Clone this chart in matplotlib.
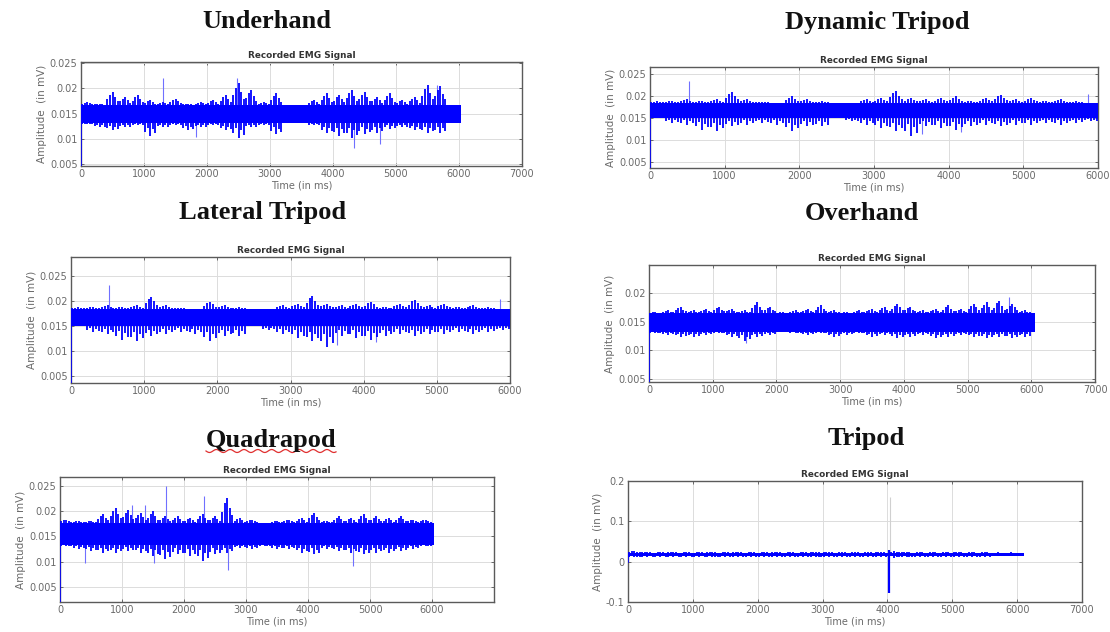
import numpy as np
import matplotlib
matplotlib.use("Agg")
import matplotlib.pyplot as plt
from matplotlib.lines import Line2D

# ---- data (mV) ----
# 200 ms bins from 0 to 6000 ms: upper / lower extremes of the signal in each bin
bin_start = np.arange(0, 6000, 200)

under_hi = [0.0173, 0.0170, 0.0193, 0.0183, 0.0187, 0.0177, 0.0173, 0.0180, 0.0170, 0.0173,
            0.0177, 0.0187, 0.0210, 0.0197, 0.0173, 0.0190, 0.0163, 0.0167, 0.0177, 0.0190,
            0.0187, 0.0197, 0.0193, 0.0183, 0.0190, 0.0177, 0.0183, 0.0207, 0.0205, 0.0162]
under_lo = [0.0130, 0.0123, 0.0117, 0.0123, 0.0127, 0.0107, 0.0123, 0.0127, 0.0117, 0.0123,
            0.0127, 0.0117, 0.0103, 0.0123, 0.0127, 0.0110, 0.0137, 0.0133, 0.0127, 0.0113,
            0.0107, 0.0103, 0.0110, 0.0113, 0.0120, 0.0123, 0.0117, 0.0113, 0.0113, 0.0136]
under_core = (0.0131, 0.0167)
under_end = 6030
under_spike_t = [1300, 1830, 2480, 4330, 4750, 5650]
under_spike_v = [0.0220, 0.0105, 0.0220, 0.0083, 0.0090, 0.0207]

dyn_hi = [0.0188, 0.0189, 0.0192, 0.0189, 0.0192, 0.0209, 0.0192, 0.0186, 0.0184, 0.0199,
          0.0192, 0.0188, 0.0173, 0.0180, 0.0192, 0.0195, 0.0211, 0.0195, 0.0192, 0.0195,
          0.0199, 0.0189, 0.0195, 0.0203, 0.0192, 0.0195, 0.0189, 0.0192, 0.0188, 0.0184]
dyn_lo = [0.0150, 0.0139, 0.0135, 0.0123, 0.0120, 0.0131, 0.0135, 0.0139, 0.0135, 0.0120,
          0.0131, 0.0131, 0.0158, 0.0142, 0.0135, 0.0127, 0.0120, 0.0108, 0.0131, 0.0127,
          0.0123, 0.0131, 0.0135, 0.0131, 0.0135, 0.0135, 0.0139, 0.0135, 0.0139, 0.0142]
dyn_core = (0.0150, 0.0185)
dyn_end = 6000
dyn_spike_t = [522, 3640, 4170, 5860]
dyn_spike_v = [0.0233, 0.0113, 0.0118, 0.0205]

# the lateral tripod recording shows the same trace
lat_hi = dyn_hi
lat_lo = dyn_lo
lat_core = dyn_core
lat_end = dyn_end
lat_spike_t = dyn_spike_t
lat_spike_v = dyn_spike_v

over_hi = [0.0167, 0.0170, 0.0176, 0.0170, 0.0173, 0.0176, 0.0173, 0.0170, 0.0184, 0.0176,
           0.0167, 0.0170, 0.0173, 0.0179, 0.0170, 0.0167, 0.0170, 0.0173, 0.0176, 0.0182,
           0.0176, 0.0170, 0.0173, 0.0179, 0.0173, 0.0182, 0.0184, 0.0187, 0.0182, 0.0170]
over_lo = [0.0130, 0.0127, 0.0124, 0.0124, 0.0127, 0.0130, 0.0124, 0.0116, 0.0124, 0.0127,
           0.0133, 0.0130, 0.0127, 0.0130, 0.0124, 0.0127, 0.0130, 0.0124, 0.0127, 0.0121,
           0.0124, 0.0127, 0.0121, 0.0124, 0.0127, 0.0124, 0.0121, 0.0124, 0.0121, 0.0124]
over_core = (0.0132, 0.0165)
over_end = 6060
over_spike_t = [1530, 5650]
over_spike_v = [0.0113, 0.0193]

quad_hi = [0.0183, 0.0180, 0.0180, 0.0193, 0.0206, 0.0201, 0.0196, 0.0199, 0.0189, 0.0189,
           0.0186, 0.0193, 0.0189, 0.0226, 0.0186, 0.0183, 0.0176, 0.0180, 0.0183, 0.0186,
           0.0196, 0.0180, 0.0189, 0.0186, 0.0193, 0.0189, 0.0186, 0.0189, 0.0183, 0.0183]
quad_lo = [0.0130, 0.0124, 0.0120, 0.0117, 0.0117, 0.0120, 0.0117, 0.0111, 0.0104, 0.0114,
           0.0111, 0.0101, 0.0114, 0.0117, 0.0127, 0.0124, 0.0130, 0.0124, 0.0124, 0.0117,
           0.0114, 0.0124, 0.0120, 0.0117, 0.0114, 0.0117, 0.0117, 0.0120, 0.0124, 0.0130]
quad_core = (0.0133, 0.0176)
quad_end = 6030
quad_spike_t = [410, 1160, 1376, 1510, 1715, 2317, 2704, 4725]
quad_spike_v = [0.0097, 0.0212, 0.0212, 0.0097, 0.0249, 0.0229, 0.0084, 0.0091]

tri_hi = [0.027, 0.025, 0.024, 0.025, 0.024, 0.024, 0.025, 0.024, 0.025, 0.024,
          0.024, 0.025, 0.024, 0.024, 0.025, 0.025, 0.024, 0.024, 0.024, 0.025,
          0.026, 0.025, 0.024, 0.024, 0.024, 0.025, 0.024, 0.024, 0.023, 0.023]
tri_lo = [0.011, 0.012, 0.012, 0.012, 0.012, 0.012, 0.011, 0.012, 0.012, 0.012,
          0.012, 0.012, 0.012, 0.012, 0.011, 0.012, 0.012, 0.012, 0.012, 0.012,
          0.010, 0.011, 0.012, 0.012, 0.012, 0.012, 0.012, 0.012, 0.013, 0.013]
tri_core = (0.0145, 0.0215)
tri_end = 6100
tri_burst_t = [4030]
tri_burst_lo = [-0.077]
tri_burst_hi = [0.030]
tri_spike_t = [4045]
tri_spike_v = [0.160]

start_value = 0.0  # every recording begins at 0 mV

BLUE = "#0000ff"
W, H = 1110, 632
fig = plt.figure(figsize=(W / 100, H / 100), dpi=100)
fig.patch.set_facecolor("white")

# where strokes sit inside a bin and how far toward the bin extreme they reach
stroke_off = [20, 60, 100, 140, 180]
stroke_up = [0.45, 0.8, 1.0, 0.6, 0.3]
stroke_dn = [0.7, 0.35, 1.0, 0.5, 0.8]


def px_axes(l, t, r, b):
    return fig.add_axes([l / W, 1 - b / H, (r - l) / W, (b - t) / H])


def draw_emg(ax, hi, lo, core, end, spike_t, spike_v, faint=False):
    lo = np.asarray(lo)
    hi = np.asarray(hi)
    mid = (core[0] + core[1]) / 2
    ax.fill_between([0, end], [core[0]] * 2, [core[1]] * 2, color=BLUE, lw=0, zorder=3)
    for off, fu, fd in zip(stroke_off, stroke_up, stroke_dn):
        ax.vlines(bin_start + off, core[0] - (core[0] - lo) * fd,
                  core[1] + (hi - core[1]) * fu, color=BLUE, lw=1.3, zorder=3)
    ax.plot([0, 0], [start_value, mid], color=BLUE, lw=1.2, zorder=3)
    col = "#d0d0d0" if faint else "#7070ff"
    ax.vlines(spike_t, mid, spike_v, color=col, lw=0.8, zorder=2)


def style(ax, xlim, ylim, yticks, ylabels, xticklabels=None):
    ax.set_xlim(*xlim)
    ax.set_ylim(*ylim)
    xt = list(range(0, xlim[1] + 1, 1000))
    ax.set_xticks(xt)
    ax.set_xticklabels(xticklabels if xticklabels else [str(v) for v in xt])
    ax.set_yticks(yticks)
    ax.set_yticklabels(ylabels)
    ax.grid(True, color="#dcdcdc", lw=0.7)
    ax.set_axisbelow(True)
    ax.tick_params(direction="in", length=2.5, width=0.6, colors="#555555",
                   labelsize=7, labelcolor="#6a6a6a", top=True, right=True, pad=2.5)
    for s in ax.spines.values():
        s.set_color("#5a5a5a")
        s.set_linewidth(1.0)
    ax.set_title("Recorded EMG Signal", fontsize=6.4, fontweight="bold",
                 color="#333333", pad=3)
    ax.set_xlabel("Time (in ms)", fontsize=7, color="#6a6a6a", labelpad=0.5)
    ax.set_ylabel("Amplitude  (in mV)", fontsize=7.5, color="#6a6a6a", labelpad=2)


small_ticks = [0.005, 0.01, 0.015, 0.02, 0.025]
small_labels = ["0.005", "0.01", "0.015", "0.02", "0.025"]

ax1 = px_axes(81, 62, 522, 166)
draw_emg(ax1, under_hi, under_lo, under_core, under_end, under_spike_t, under_spike_v)
style(ax1, (0, 7000), (0.0047, 0.0252), small_ticks, small_labels)

ax2 = px_axes(650, 67, 1098, 168)
draw_emg(ax2, dyn_hi, dyn_lo, dyn_core, dyn_end, dyn_spike_t, dyn_spike_v)
style(ax2, (0, 6000), (0.0036, 0.0266), small_ticks, small_labels)

ax3 = px_axes(71, 257, 510, 383)
draw_emg(ax3, lat_hi, lat_lo, lat_core, lat_end, lat_spike_t, lat_spike_v)
style(ax3, (0, 6000), (0.0037, 0.0288), small_ticks, small_labels)

ax4 = px_axes(649, 265, 1095, 382)
draw_emg(ax4, over_hi, over_lo, over_core, over_end, over_spike_t, over_spike_v)
style(ax4, (0, 7000), (0.0044, 0.0250), small_ticks[:4], small_labels[:4])

ax5 = px_axes(60, 477, 494, 602)
draw_emg(ax5, quad_hi, quad_lo, quad_core, quad_end, quad_spike_t, quad_spike_v)
style(ax5, (0, 7000), (0.0020, 0.0267), small_ticks, small_labels,
      xticklabels=["0", "1000", "2000", "3000", "4000", "5000", "6000", ""])

ax6 = px_axes(628, 481, 1082, 602)
draw_emg(ax6, tri_hi, tri_lo, tri_core, tri_end, tri_spike_t, tri_spike_v, faint=True)
ax6.vlines(tri_burst_t, tri_burst_lo, tri_burst_hi, color=BLUE, lw=1.6, zorder=4)
style(ax6, (0, 7000), (-0.1, 0.2), [-0.1, 0, 0.1, 0.2], ["-0.1", "0", "0.1", "0.2"])

# big panel headings
heads = [("Underhand", 267, 22), ("Dynamic Tripod", 877, 22),
         ("Lateral Tripod", 263, 212), ("Overhand", 862, 213),
         ("Quadrapod", 271, 440), ("Tripod", 866, 438)]
for name, x, y in heads:
    fig.text(x / W, 1 - y / H, name, ha="center", va="center",
             family="Liberation Serif", fontweight="bold", fontsize=19, color="#111111")

# spell-check squiggle under "Quadrapod"
sx = np.linspace(206, 336, 120)
sy = 451 + 1.5 * np.sin((sx - 206) / 2.2)
fig.add_artist(Line2D(sx / W, 1 - sy / H, color="#e03030", lw=0.9))

fig.savefig("out.png", dpi=100)
